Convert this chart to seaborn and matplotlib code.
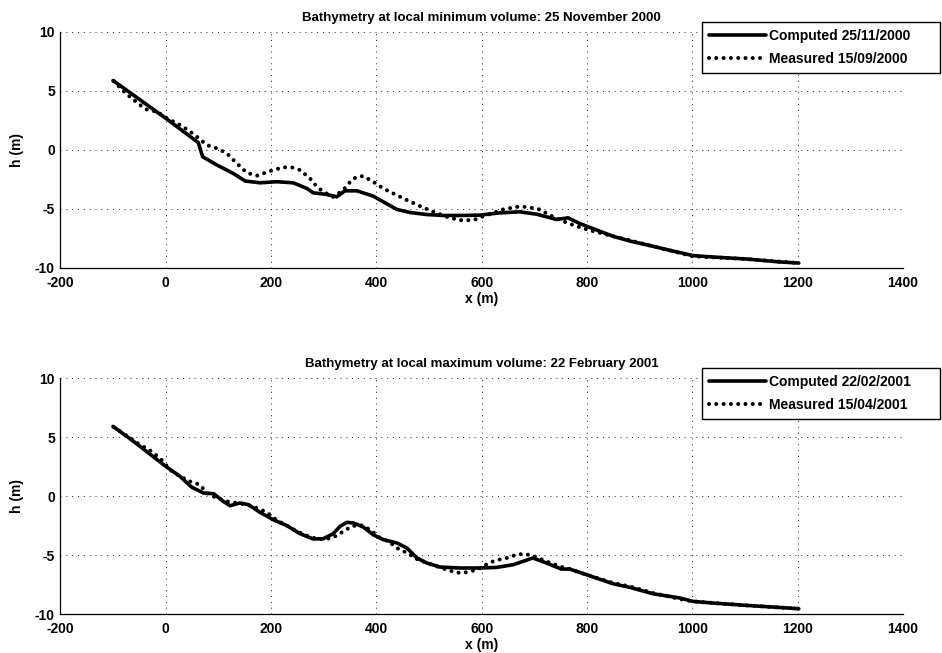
import matplotlib
matplotlib.use("Agg")
import matplotlib.pyplot as plt
import seaborn as sns
import pandas as pd

# ---- data ----
titles = ["Bathymetry at local minimum volume: 25 November 2000",
          "Bathymetry at local maximum volume: 22 February 2001"]
labels_comp = ["Computed 25/11/2000", "Computed 22/02/2001"]
labels_meas = ["Measured 15/09/2000", "Measured 15/04/2001"]

comp1_x = [-100, 0, 62, 70, 97, 128, 151, 179, 211, 242, 268, 280, 306, 325, 340, 363, 394, 413,
           439, 464, 496, 527, 559, 596, 634, 672, 704, 742, 764, 786, 811, 849, 881, 925, 963,
           1001, 1039, 1103, 1166, 1202]
comp1_h = [5.89, 2.69, 0.62, -0.57, -1.27, -1.98, -2.63, -2.78, -2.69, -2.78, -3.26, -3.63, -3.77,
           -3.97, -3.46, -3.46, -3.91, -4.39, -5.04, -5.30, -5.47, -5.55, -5.55, -5.52, -5.33, -5.24,
           -5.44, -5.89, -5.75, -6.23, -6.66, -7.31, -7.71, -8.16, -8.56, -8.95, -9.07, -9.24, -9.49,
           -9.58]

meas1_x = [-99, -74, -49, -35, -17, 2, 21, 40, 59, 78, 97, 116, 135, 154, 173, 182, 204, 223, 239,
           255, 274, 287, 299, 318, 337, 353, 363, 375, 394, 413, 432, 458, 483, 508, 534, 559, 584,
           603, 622, 640, 666, 685, 710, 729, 754, 780, 805, 849, 881, 925, 976, 1001, 1103, 1202]
meas1_h = [5.84, 4.73, 3.82, 3.40, 3.26, 2.69, 2.27, 1.76, 1.13, 0.42, 0.14, -0.28, -1.13, -1.93,
           -2.18, -2.04, -1.70, -1.47, -1.47, -1.70, -2.41, -3.12, -3.54, -3.97, -3.40, -2.55, -2.27,
           -2.21, -2.69, -3.26, -3.68, -4.25, -4.76, -5.24, -5.67, -5.95, -5.95, -5.61, -5.33, -5.04,
           -4.82, -4.82, -5.04, -5.52, -6.03, -6.46, -6.80, -7.31, -7.65, -8.16, -8.73, -9.01, -9.24,
           -9.58]

comp2_x = [-100, -61, 0, 27, 49, 72, 91, 109, 122, 141, 157, 179, 204, 230, 255, 280, 299, 318, 331,
           344, 357, 375, 394, 413, 439, 458, 477, 496, 521, 559, 597, 628, 660, 697, 723, 751, 767,
           799, 849, 881, 925, 976, 1001, 1039, 1103, 1202]
comp2_h = [5.90, 4.63, 2.51, 1.67, 0.76, 0.25, 0.20, -0.45, -0.82, -0.59, -0.73, -1.38, -2.01, -2.51,
           -3.19, -3.64, -3.62, -3.19, -2.57, -2.23, -2.29, -2.63, -3.28, -3.70, -3.98, -4.41, -5.25,
           -5.68, -6.02, -6.10, -6.10, -6.05, -5.82, -5.25, -5.68, -6.19, -6.19, -6.67, -7.43, -7.74,
           -8.28, -8.64, -8.93, -9.07, -9.27, -9.55]

meas2_x = [-99, -74, -49, -30, -11, 8, 27, 46, 65, 78, 97, 116, 135, 154, 173, 192, 211, 230, 249,
           268, 287, 306, 325, 337, 353, 369, 388, 407, 423, 439, 461, 477, 496, 515, 537, 559, 578,
           597, 616, 632, 641, 660, 679, 697, 723, 748, 767, 799, 849, 881, 925, 976, 1001, 1103, 1202]
meas2_h = [5.85, 5.11, 4.35, 3.87, 3.22, 2.23, 1.67, 1.24, 0.96, 0.25, -0.17, -0.45, -0.59, -0.73,
           -1.02, -1.38, -2.06, -2.51, -2.99, -3.36, -3.64, -3.64, -3.36, -2.99, -2.57, -2.43, -2.85,
           -3.56, -3.84, -4.41, -4.89, -5.34, -5.68, -5.96, -6.30, -6.53, -6.41, -6.10, -5.62, -5.40,
           -5.34, -5.06, -4.89, -5.06, -5.54, -5.96, -6.19, -6.67, -7.37, -7.66, -8.22, -8.73, -8.93,
           -9.27, -9.55]

xticks = [-200, 0, 200, 400, 600, 800, 1000, 1200, 1400]
yticks = [-10, -5, 0, 5, 10]

# ---- style ----
sns.set_theme(style="white")
plt.rcParams['font.family'] = ['Liberation Sans', 'DejaVu Sans']
plt.rcParams['font.weight'] = 'bold'
plt.rcParams['axes.labelweight'] = 'bold'
plt.rcParams['axes.titleweight'] = 'bold'
for k in ['text.color', 'axes.labelcolor', 'xtick.color', 'ytick.color', 'axes.edgecolor']:
    plt.rcParams[k] = 'black'

fig = plt.figure(figsize=(9.42, 6.53), dpi=100)
fig.patch.set_facecolor('white')

positions = [[0.0641, 0.5896, 0.8946, 0.3614], [0.0641, 0.0597, 0.8946, 0.3614]]
series = [(comp1_x, comp1_h, meas1_x, meas1_h), (comp2_x, comp2_h, meas2_x, meas2_h)]
legend_boxes = [(702 / 942, 1 - 73 / 653, 238 / 942, 51 / 653),
                (702 / 942, 1 - 419 / 653, 238 / 942, 51 / 653)]

for i in range(2):
    ax = fig.add_axes(positions[i])
    cx, ch, mx, mh = series[i]
    dfc = pd.DataFrame({"x": cx, "h": ch})
    dfm = pd.DataFrame({"x": mx, "h": mh})
    sns.lineplot(data=dfc, x="x", y="h", ax=ax, color="black", linewidth=2.6,
                 label=labels_comp[i], solid_capstyle="round", zorder=3)
    sns.lineplot(data=dfm, x="x", y="h", ax=ax, color="black", linewidth=2.9,
                 label=labels_meas[i], zorder=3)
    ax.lines[1].set_linestyle((0, (0.01, 1.8)))
    ax.lines[1].set_dash_capstyle("round")

    ax.set_xlim(-200, 1400)
    ax.set_ylim(-10, 10)
    ax.set_xticks(xticks)
    ax.set_yticks(yticks)
    ax.set_xticklabels([str(t) for t in xticks], fontsize=10, fontweight='bold', color='black')
    ax.set_yticklabels([str(t) for t in yticks], fontsize=10, fontweight='bold', color='black')
    ax.tick_params(axis='y', direction='in', length=4, width=0.8, color='black', pad=4)
    ax.tick_params(axis='x', direction='in', length=4, width=0.8, color='black', pad=6)
    ax.grid(True, linestyle=(0, (1, 5)), color='#222222', linewidth=0.7)
    for s in ['top', 'right']:
        ax.spines[s].set_visible(False)
    for s in ['left', 'bottom']:
        ax.spines[s].set_color('black')
        ax.spines[s].set_linewidth(0.9)
    ax.set_xlabel("x (m)", fontsize=10, fontweight='bold', labelpad=1, color='black')
    ax.set_ylabel("h (m)", fontsize=10, fontweight='bold', labelpad=8, color='black')
    ax.set_title(titles[i], fontsize=9.5, fontweight='bold', pad=8, color='black')

    leg = ax.legend(loc='upper left', bbox_to_anchor=legend_boxes[i], mode='expand',
                    bbox_transform=fig.transFigure, fancybox=False, frameon=True,
                    edgecolor='black', framealpha=1, borderaxespad=0, handlelength=4.1,
                    handletextpad=0.2, borderpad=0.5, labelspacing=0.65,
                    prop={'weight': 'bold', 'size': 10})
    leg.get_frame().set_linewidth(1.0)
    for t in leg.get_texts():
        t.set_color('black')

fig.savefig("out.png", dpi=100, facecolor='white')
